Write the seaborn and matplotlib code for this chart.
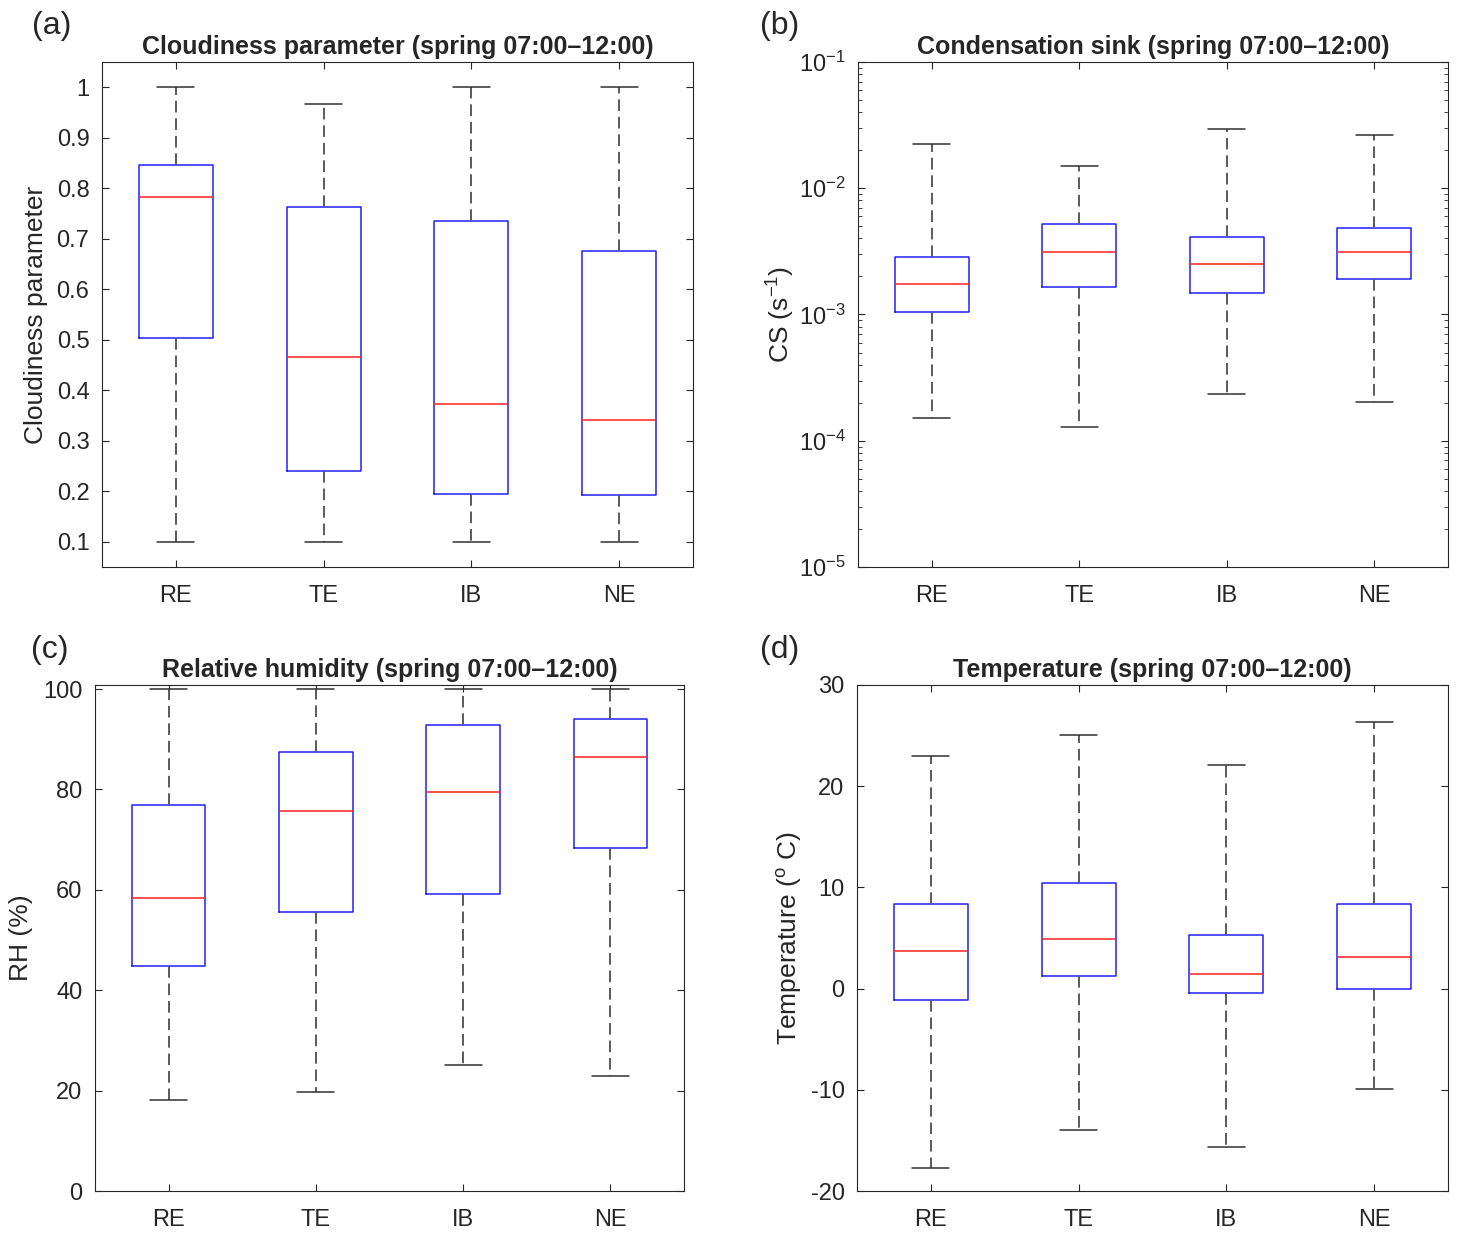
import numpy as np
import pandas as pd
import matplotlib
matplotlib.use("Agg")
import matplotlib.pyplot as plt
import matplotlib.ticker as mticker
import seaborn as sns

# ---------------- data ----------------
sites = ["RE", "TE", "IB", "NE"]

cloud_min = [0.10, 0.10, 0.10, 0.10]
cloud_q1 = [0.504, 0.240, 0.195, 0.193]
cloud_med = [0.783, 0.465, 0.373, 0.342]
cloud_q3 = [0.847, 0.763, 0.735, 0.676]
cloud_max = [1.00, 0.966, 1.00, 1.00]

cs_min = [0.000151, 0.000128, 0.000234, 0.000204]
cs_q1 = [0.00104, 0.00166, 0.00147, 0.00192]
cs_med = [0.00173, 0.00310, 0.00253, 0.00312]
cs_q3 = [0.00286, 0.00520, 0.00413, 0.00483]
cs_max = [0.0224, 0.0150, 0.0292, 0.0264]

rh_min = [18.1, 19.8, 25.1, 23.0]
rh_q1 = [44.8, 55.5, 59.1, 68.3]
rh_med = [58.4, 75.7, 79.4, 86.4]
rh_q3 = [76.9, 87.5, 92.9, 94.0]
rh_max = [100.0, 100.0, 100.0, 100.0]

t_min = [-17.7, -13.96, -15.67, -9.91]
t_q1 = [-1.09, 1.28, -0.39, 0.0]
t_med = [3.69, 4.94, 1.44, 3.11]
t_q3 = [8.36, 10.42, 5.33, 8.36]
t_max = [22.98, 25.08, 22.05, 26.36]

cloud_ticks = [0.1, 0.2, 0.3, 0.4, 0.5, 0.6, 0.7, 0.8, 0.9, 1.0]
cloud_ticklabels = ["0.1", "0.2", "0.3", "0.4", "0.5", "0.6", "0.7", "0.8", "0.9", "1"]
rh_ticks = [0, 20, 40, 60, 80, 100]
t_ticks = [-20, -10, 0, 10, 20, 30]

titles = ["Cloudiness parameter (spring 07:00\u201312:00)",
          "Condensation sink (spring 07:00\u201312:00)",
          "Relative humidity (spring 07:00\u201312:00)",
          "Temperature (spring 07:00\u201312:00)"]
ylabels = ["Cloudiness parameter", r"CS (s$^{-1}$)", "RH (%)",
           r"Temperature ($^{\mathrm{o}}$ C)"]
panel_tags = ["(a)", "(b)", "(c)", "(d)"]


def long_frame(mins, q1s, meds, q3s, maxs):
    rows = []
    for s, a, b, c, d, e in zip(sites, mins, q1s, meds, q3s, maxs):
        for v in (a, b, c, d, e):
            rows.append({"site": s, "value": v})
    return pd.DataFrame(rows)


frames = [long_frame(cloud_min, cloud_q1, cloud_med, cloud_q3, cloud_max),
          long_frame(cs_min, cs_q1, cs_med, cs_q3, cs_max),
          long_frame(rh_min, rh_q1, rh_med, rh_q3, rh_max),
          long_frame(t_min, t_q1, t_med, t_q3, t_max)]

# ---------------- style ----------------
sns.set_style("ticks")
plt.rcParams["font.family"] = ["Liberation Sans", "DejaVu Sans"]
plt.rcParams["mathtext.fontset"] = "custom"
plt.rcParams["mathtext.rm"] = "Liberation Sans"
plt.rcParams["mathtext.it"] = "Liberation Sans:italic"
plt.rcParams["axes.unicode_minus"] = False
plt.rcParams["axes.edgecolor"] = "#262626"
plt.rcParams["axes.linewidth"] = 0.8

W, H = 1461, 1237
fig = plt.figure(figsize=(W / 100, H / 100), dpi=100)

rects_px = [(102, 62, 693, 567), (858, 62, 1448, 567),
            (95, 685, 684, 1191), (857, 685, 1448, 1191)]
tag_px = [(52, 26), (780, 26), (50, 650), (780, 650)]
ylabel_x = [-0.092, -0.104, -0.106, -0.090]

for i in range(4):
    l, t, r, b = rects_px[i]
    ax = fig.add_axes([l / W, 1 - b / H, (r - l) / W, (b - t) / H])
    sns.boxplot(data=frames[i], x="site", y="value", ax=ax,
                whis=(0, 100), width=0.5, fill=False, showfliers=False,
                linewidth=1.0, log_scale=(i == 1),
                boxprops=dict(color="#1f1fff", linewidth=1.1),
                medianprops=dict(color="#ff2020", linewidth=1.1),
                whiskerprops=dict(color="#5a5a5a", linewidth=1.4,
                                  linestyle=(0, (6, 3))),
                capprops=dict(color="#303030", linewidth=1.1))
    ax.set_xlim(-0.5, 3.5)
    ax.set_xlabel("")
    ax.set_ylabel(ylabels[i], fontsize=19)
    ax.yaxis.set_label_coords(ylabel_x[i], 0.5)
    ax.set_title(titles[i], fontsize=18, fontweight="bold", pad=6)
    for sp in ax.spines.values():
        sp.set_visible(True)
        sp.set_color("#262626")
        sp.set_linewidth(0.8)
    ax.tick_params(axis="both", which="both", direction="in",
                   top=True, right=True, color="#262626")
    ax.tick_params(axis="both", which="major", length=5, width=0.8,
                   labelsize=17)
    ax.tick_params(axis="x", pad=13)
    ax.tick_params(axis="y", pad=9)

    if i == 0:
        ax.set_ylim(0.05, 1.05)
        ax.set_yticks(cloud_ticks)
        ax.set_yticklabels(cloud_ticklabels)
    elif i == 1:
        ax.set_ylim(1e-5, 1e-1)
        ax.yaxis.set_major_locator(mticker.LogLocator(base=10, numticks=10))
        ax.yaxis.set_minor_locator(mticker.LogLocator(base=10, subs=np.arange(2, 10), numticks=20))
        ax.yaxis.set_minor_formatter(mticker.NullFormatter())
        ax.tick_params(axis="y", which="minor", length=3, width=0.6)
    elif i == 2:
        ax.set_ylim(0, 100.8)
        ax.set_yticks(rh_ticks)
    else:
        ax.set_ylim(-20, 30)
        ax.set_yticks(t_ticks)

    fig.text(tag_px[i][0] / W, 1 - tag_px[i][1] / H, panel_tags[i],
             fontsize=23, ha="center", va="center")

fig.savefig("out.png", dpi=100)
